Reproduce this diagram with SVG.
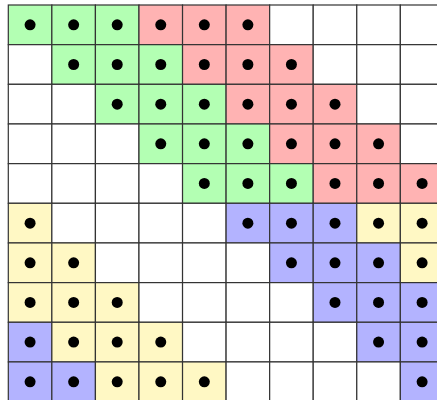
<svg xmlns="http://www.w3.org/2000/svg" xmlns:xlink="http://www.w3.org/1999/xlink" width="437" height="400" viewBox="0 0 437 400">
<style>
.c{stroke:#333;stroke-width:1.2}
.w{fill:#ffffff}.g{fill:#b3ffb3}.r{fill:#ffb3b3}.y{fill:#fff8c4}.b{fill:#b3b3ff}
.d{fill:#000}
</style>
<defs>
<rect id="cell" width="43.56" height="39.66"/>
<circle id="dot" cx="21.78" cy="19.83" r="5.5"/>
</defs>
<rect width="437" height="400" fill="#fff"/>
<g id="row0">
<g id="r0c0" transform="translate(8.3,5)"><use href="#cell" class="c g"/><use href="#dot" class="d"/></g>
<g id="r0c1" transform="translate(51.86,5)"><use href="#cell" class="c g"/><use href="#dot" class="d"/></g>
<g id="r0c2" transform="translate(95.42,5)"><use href="#cell" class="c g"/><use href="#dot" class="d"/></g>
<g id="r0c3" transform="translate(138.98,5)"><use href="#cell" class="c r"/><use href="#dot" class="d"/></g>
<g id="r0c4" transform="translate(182.54,5)"><use href="#cell" class="c r"/><use href="#dot" class="d"/></g>
<g id="r0c5" transform="translate(226.1,5)"><use href="#cell" class="c r"/><use href="#dot" class="d"/></g>
<g id="r0c6" transform="translate(269.66,5)"><use href="#cell" class="c w"/></g>
<g id="r0c7" transform="translate(313.22,5)"><use href="#cell" class="c w"/></g>
<g id="r0c8" transform="translate(356.78,5)"><use href="#cell" class="c w"/></g>
<g id="r0c9" transform="translate(400.34,5)"><use href="#cell" class="c w"/></g>
</g>
<g id="row1">
<g id="r1c0" transform="translate(8.3,44.66)"><use href="#cell" class="c w"/></g>
<g id="r1c1" transform="translate(51.86,44.66)"><use href="#cell" class="c g"/><use href="#dot" class="d"/></g>
<g id="r1c2" transform="translate(95.42,44.66)"><use href="#cell" class="c g"/><use href="#dot" class="d"/></g>
<g id="r1c3" transform="translate(138.98,44.66)"><use href="#cell" class="c g"/><use href="#dot" class="d"/></g>
<g id="r1c4" transform="translate(182.54,44.66)"><use href="#cell" class="c r"/><use href="#dot" class="d"/></g>
<g id="r1c5" transform="translate(226.1,44.66)"><use href="#cell" class="c r"/><use href="#dot" class="d"/></g>
<g id="r1c6" transform="translate(269.66,44.66)"><use href="#cell" class="c r"/><use href="#dot" class="d"/></g>
<g id="r1c7" transform="translate(313.22,44.66)"><use href="#cell" class="c w"/></g>
<g id="r1c8" transform="translate(356.78,44.66)"><use href="#cell" class="c w"/></g>
<g id="r1c9" transform="translate(400.34,44.66)"><use href="#cell" class="c w"/></g>
</g>
<g id="row2">
<g id="r2c0" transform="translate(8.3,84.32)"><use href="#cell" class="c w"/></g>
<g id="r2c1" transform="translate(51.86,84.32)"><use href="#cell" class="c w"/></g>
<g id="r2c2" transform="translate(95.42,84.32)"><use href="#cell" class="c g"/><use href="#dot" class="d"/></g>
<g id="r2c3" transform="translate(138.98,84.32)"><use href="#cell" class="c g"/><use href="#dot" class="d"/></g>
<g id="r2c4" transform="translate(182.54,84.32)"><use href="#cell" class="c g"/><use href="#dot" class="d"/></g>
<g id="r2c5" transform="translate(226.1,84.32)"><use href="#cell" class="c r"/><use href="#dot" class="d"/></g>
<g id="r2c6" transform="translate(269.66,84.32)"><use href="#cell" class="c r"/><use href="#dot" class="d"/></g>
<g id="r2c7" transform="translate(313.22,84.32)"><use href="#cell" class="c r"/><use href="#dot" class="d"/></g>
<g id="r2c8" transform="translate(356.78,84.32)"><use href="#cell" class="c w"/></g>
<g id="r2c9" transform="translate(400.34,84.32)"><use href="#cell" class="c w"/></g>
</g>
<g id="row3">
<g id="r3c0" transform="translate(8.3,123.98)"><use href="#cell" class="c w"/></g>
<g id="r3c1" transform="translate(51.86,123.98)"><use href="#cell" class="c w"/></g>
<g id="r3c2" transform="translate(95.42,123.98)"><use href="#cell" class="c w"/></g>
<g id="r3c3" transform="translate(138.98,123.98)"><use href="#cell" class="c g"/><use href="#dot" class="d"/></g>
<g id="r3c4" transform="translate(182.54,123.98)"><use href="#cell" class="c g"/><use href="#dot" class="d"/></g>
<g id="r3c5" transform="translate(226.1,123.98)"><use href="#cell" class="c g"/><use href="#dot" class="d"/></g>
<g id="r3c6" transform="translate(269.66,123.98)"><use href="#cell" class="c r"/><use href="#dot" class="d"/></g>
<g id="r3c7" transform="translate(313.22,123.98)"><use href="#cell" class="c r"/><use href="#dot" class="d"/></g>
<g id="r3c8" transform="translate(356.78,123.98)"><use href="#cell" class="c r"/><use href="#dot" class="d"/></g>
<g id="r3c9" transform="translate(400.34,123.98)"><use href="#cell" class="c w"/></g>
</g>
<g id="row4">
<g id="r4c0" transform="translate(8.3,163.64)"><use href="#cell" class="c w"/></g>
<g id="r4c1" transform="translate(51.86,163.64)"><use href="#cell" class="c w"/></g>
<g id="r4c2" transform="translate(95.42,163.64)"><use href="#cell" class="c w"/></g>
<g id="r4c3" transform="translate(138.98,163.64)"><use href="#cell" class="c w"/></g>
<g id="r4c4" transform="translate(182.54,163.64)"><use href="#cell" class="c g"/><use href="#dot" class="d"/></g>
<g id="r4c5" transform="translate(226.1,163.64)"><use href="#cell" class="c g"/><use href="#dot" class="d"/></g>
<g id="r4c6" transform="translate(269.66,163.64)"><use href="#cell" class="c g"/><use href="#dot" class="d"/></g>
<g id="r4c7" transform="translate(313.22,163.64)"><use href="#cell" class="c r"/><use href="#dot" class="d"/></g>
<g id="r4c8" transform="translate(356.78,163.64)"><use href="#cell" class="c r"/><use href="#dot" class="d"/></g>
<g id="r4c9" transform="translate(400.34,163.64)"><use href="#cell" class="c r"/><use href="#dot" class="d"/></g>
</g>
<g id="row5">
<g id="r5c0" transform="translate(8.3,203.3)"><use href="#cell" class="c y"/><use href="#dot" class="d"/></g>
<g id="r5c1" transform="translate(51.86,203.3)"><use href="#cell" class="c w"/></g>
<g id="r5c2" transform="translate(95.42,203.3)"><use href="#cell" class="c w"/></g>
<g id="r5c3" transform="translate(138.98,203.3)"><use href="#cell" class="c w"/></g>
<g id="r5c4" transform="translate(182.54,203.3)"><use href="#cell" class="c w"/></g>
<g id="r5c5" transform="translate(226.1,203.3)"><use href="#cell" class="c b"/><use href="#dot" class="d"/></g>
<g id="r5c6" transform="translate(269.66,203.3)"><use href="#cell" class="c b"/><use href="#dot" class="d"/></g>
<g id="r5c7" transform="translate(313.22,203.3)"><use href="#cell" class="c b"/><use href="#dot" class="d"/></g>
<g id="r5c8" transform="translate(356.78,203.3)"><use href="#cell" class="c y"/><use href="#dot" class="d"/></g>
<g id="r5c9" transform="translate(400.34,203.3)"><use href="#cell" class="c y"/><use href="#dot" class="d"/></g>
</g>
<g id="row6">
<g id="r6c0" transform="translate(8.3,242.96)"><use href="#cell" class="c y"/><use href="#dot" class="d"/></g>
<g id="r6c1" transform="translate(51.86,242.96)"><use href="#cell" class="c y"/><use href="#dot" class="d"/></g>
<g id="r6c2" transform="translate(95.42,242.96)"><use href="#cell" class="c w"/></g>
<g id="r6c3" transform="translate(138.98,242.96)"><use href="#cell" class="c w"/></g>
<g id="r6c4" transform="translate(182.54,242.96)"><use href="#cell" class="c w"/></g>
<g id="r6c5" transform="translate(226.1,242.96)"><use href="#cell" class="c w"/></g>
<g id="r6c6" transform="translate(269.66,242.96)"><use href="#cell" class="c b"/><use href="#dot" class="d"/></g>
<g id="r6c7" transform="translate(313.22,242.96)"><use href="#cell" class="c b"/><use href="#dot" class="d"/></g>
<g id="r6c8" transform="translate(356.78,242.96)"><use href="#cell" class="c b"/><use href="#dot" class="d"/></g>
<g id="r6c9" transform="translate(400.34,242.96)"><use href="#cell" class="c y"/><use href="#dot" class="d"/></g>
</g>
<g id="row7">
<g id="r7c0" transform="translate(8.3,282.62)"><use href="#cell" class="c y"/><use href="#dot" class="d"/></g>
<g id="r7c1" transform="translate(51.86,282.62)"><use href="#cell" class="c y"/><use href="#dot" class="d"/></g>
<g id="r7c2" transform="translate(95.42,282.62)"><use href="#cell" class="c y"/><use href="#dot" class="d"/></g>
<g id="r7c3" transform="translate(138.98,282.62)"><use href="#cell" class="c w"/></g>
<g id="r7c4" transform="translate(182.54,282.62)"><use href="#cell" class="c w"/></g>
<g id="r7c5" transform="translate(226.1,282.62)"><use href="#cell" class="c w"/></g>
<g id="r7c6" transform="translate(269.66,282.62)"><use href="#cell" class="c w"/></g>
<g id="r7c7" transform="translate(313.22,282.62)"><use href="#cell" class="c b"/><use href="#dot" class="d"/></g>
<g id="r7c8" transform="translate(356.78,282.62)"><use href="#cell" class="c b"/><use href="#dot" class="d"/></g>
<g id="r7c9" transform="translate(400.34,282.62)"><use href="#cell" class="c b"/><use href="#dot" class="d"/></g>
</g>
<g id="row8">
<g id="r8c0" transform="translate(8.3,322.28)"><use href="#cell" class="c b"/><use href="#dot" class="d"/></g>
<g id="r8c1" transform="translate(51.86,322.28)"><use href="#cell" class="c y"/><use href="#dot" class="d"/></g>
<g id="r8c2" transform="translate(95.42,322.28)"><use href="#cell" class="c y"/><use href="#dot" class="d"/></g>
<g id="r8c3" transform="translate(138.98,322.28)"><use href="#cell" class="c y"/><use href="#dot" class="d"/></g>
<g id="r8c4" transform="translate(182.54,322.28)"><use href="#cell" class="c w"/></g>
<g id="r8c5" transform="translate(226.1,322.28)"><use href="#cell" class="c w"/></g>
<g id="r8c6" transform="translate(269.66,322.28)"><use href="#cell" class="c w"/></g>
<g id="r8c7" transform="translate(313.22,322.28)"><use href="#cell" class="c w"/></g>
<g id="r8c8" transform="translate(356.78,322.28)"><use href="#cell" class="c b"/><use href="#dot" class="d"/></g>
<g id="r8c9" transform="translate(400.34,322.28)"><use href="#cell" class="c b"/><use href="#dot" class="d"/></g>
</g>
<g id="row9">
<g id="r9c0" transform="translate(8.3,361.94)"><use href="#cell" class="c b"/><use href="#dot" class="d"/></g>
<g id="r9c1" transform="translate(51.86,361.94)"><use href="#cell" class="c b"/><use href="#dot" class="d"/></g>
<g id="r9c2" transform="translate(95.42,361.94)"><use href="#cell" class="c y"/><use href="#dot" class="d"/></g>
<g id="r9c3" transform="translate(138.98,361.94)"><use href="#cell" class="c y"/><use href="#dot" class="d"/></g>
<g id="r9c4" transform="translate(182.54,361.94)"><use href="#cell" class="c y"/><use href="#dot" class="d"/></g>
<g id="r9c5" transform="translate(226.1,361.94)"><use href="#cell" class="c w"/></g>
<g id="r9c6" transform="translate(269.66,361.94)"><use href="#cell" class="c w"/></g>
<g id="r9c7" transform="translate(313.22,361.94)"><use href="#cell" class="c w"/></g>
<g id="r9c8" transform="translate(356.78,361.94)"><use href="#cell" class="c w"/></g>
<g id="r9c9" transform="translate(400.34,361.94)"><use href="#cell" class="c b"/><use href="#dot" class="d"/></g>
</g>
</svg>
